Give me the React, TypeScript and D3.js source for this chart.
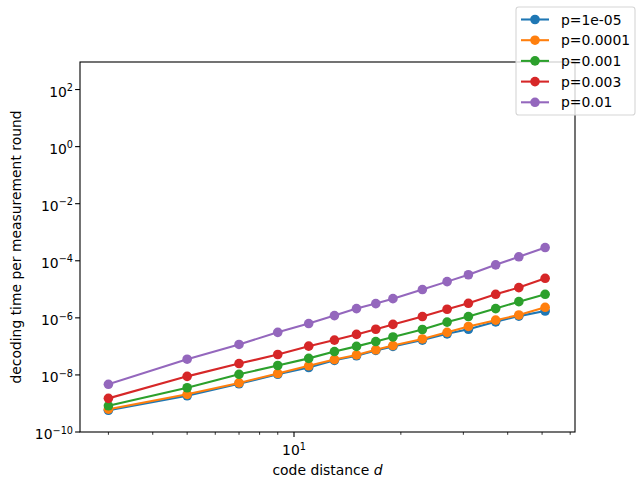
import React, { useEffect, useRef } from 'react';
import * as d3 from 'd3';

// code distances
const distances = [3, 5, 7, 9, 11, 13, 15, 17, 19, 23, 27, 31, 37, 43, 51];

const series = [
  { label: 'p=1e-05', color: '#1f77b4', values: [5.75e-10, 1.86e-9, 4.9e-9, 1.05e-8, 1.82e-8, 3.24e-8, 4.68e-8, 7.24e-8, 1.0e-7, 1.66e-7, 2.75e-7, 3.98e-7, 7.24e-7, 1.15e-6, 1.74e-6] },
  { label: 'p=0.0001', color: '#ff7f0e', values: [6.3e-10, 2.09e-9, 5.25e-9, 1.12e-8, 2.09e-8, 3.47e-8, 5.0e-8, 7.6e-8, 1.07e-7, 1.82e-7, 3.1e-7, 5.0e-7, 8.3e-7, 1.26e-6, 2.34e-6] },
  { label: 'p=0.001', color: '#2ca02c', values: [8.3e-10, 3.55e-9, 1.05e-8, 2.14e-8, 3.8e-8, 6.6e-8, 1.0e-7, 1.48e-7, 2.14e-7, 3.9e-7, 7.1e-7, 1.11e-6, 2.11e-6, 3.7e-6, 6.7e-6] },
  { label: 'p=0.003', color: '#d62728', values: [1.51e-9, 8.9e-9, 2.5e-8, 5.2e-8, 1.02e-7, 1.66e-7, 2.63e-7, 3.98e-7, 5.9e-7, 1.11e-6, 2.0e-6, 3.24e-6, 6.7e-6, 1.15e-5, 2.43e-5] },
  { label: 'p=0.01', color: '#9467bd', values: [4.7e-9, 3.55e-8, 1.17e-7, 3.1e-7, 6.3e-7, 1.2e-6, 2.11e-6, 3.16e-6, 4.7e-6, 9.8e-6, 1.86e-5, 3.24e-5, 7.2e-5, 1.38e-4, 2.9e-4] },
];

const yTickExps = [-10, -8, -6, -4, -2, 0, 2];
const xMajorTicks = [10];
const xMinorTicks = [3, 4, 5, 6, 7, 8, 9, 20, 30, 40, 50, 60];

const W = 641;
const H = 489;
const FONT = '"DejaVu Sans", sans-serif';
const FS = 13.9;
const R = 4.8;

const App = () => {
  const svgRef = useRef<SVGSVGElement>(null);

  useEffect(() => {
    document.body.style.margin = '0';
    if (!svgRef.current) return;
    const svg = d3.select(svgRef.current);
    svg.selectAll('*').remove();

    const left = 80, right = 575, top = 62, bottom = 432;

    const x = d3.scaleLog().domain([2.495, 61.9]).range([left, right]);
    const y = d3.scaleLog().domain([1e-10, Math.pow(10, 2.965)]).range([bottom, top]);

    svg.append('rect').attr('width', W).attr('height', H).attr('fill', 'white');

    // lines + markers
    const line = d3.line<number>()
      .x((_, i) => x(distances[i]))
      .y(d => y(d));

    series.forEach(s => {
      svg.append('path')
        .datum(s.values)
        .attr('d', line)
        .attr('fill', 'none')
        .attr('stroke', s.color)
        .attr('stroke-width', 2.08)
        .attr('stroke-linejoin', 'round')
        .attr('stroke-linecap', 'square');
      svg.append('g').selectAll('circle')
        .data(s.values)
        .enter()
        .append('circle')
        .attr('cx', (_, i) => x(distances[i]))
        .attr('cy', d => y(d))
        .attr('r', R)
        .attr('fill', s.color);
    });

    // spines
    svg.append('rect')
      .attr('x', left).attr('y', top)
      .attr('width', right - left).attr('height', bottom - top)
      .attr('fill', 'none').attr('stroke', 'black').attr('stroke-width', 1.1);

    // x ticks
    xMinorTicks.forEach(t => {
      svg.append('line')
        .attr('x1', x(t)).attr('x2', x(t))
        .attr('y1', bottom).attr('y2', bottom + 2.8)
        .attr('stroke', 'black').attr('stroke-width', 0.8);
    });
    xMajorTicks.forEach(t => {
      svg.append('line')
        .attr('x1', x(t)).attr('x2', x(t))
        .attr('y1', bottom).attr('y2', bottom + 4.9)
        .attr('stroke', 'black').attr('stroke-width', 1.1);
      const txt = svg.append('text')
        .attr('x', x(t)).attr('y', 455)
        .attr('text-anchor', 'middle')
        .attr('font-family', FONT).attr('font-size', FS);
      txt.append('tspan').text('10');
      txt.append('tspan').attr('dy', -5.5).attr('font-size', FS * 0.7).text(String(Math.log10(t)));
    });

    // y ticks
    yTickExps.forEach(e => {
      const ty = y(Math.pow(10, e));
      svg.append('line')
        .attr('x1', left - 4.9).attr('x2', left)
        .attr('y1', ty).attr('y2', ty)
        .attr('stroke', 'black').attr('stroke-width', 1.1);
      const txt = svg.append('text')
        .attr('x', 73).attr('y', ty + 7.2)
        .attr('text-anchor', 'end')
        .attr('font-family', FONT).attr('font-size', FS);
      txt.append('tspan').text('10');
      txt.append('tspan').attr('dy', -5.5).attr('font-size', FS * 0.7)
        .text(e < 0 ? '\u2212' + Math.abs(e) : String(e));
    });

    // axis labels
    const xl = svg.append('text')
      .attr('x', (left + right) / 2).attr('y', 475)
      .attr('text-anchor', 'middle')
      .attr('font-family', FONT).attr('font-size', FS);
    xl.append('tspan').text('code distance ');
    xl.append('tspan').attr('font-style', 'italic').text('d');

    svg.append('text')
      .attr('transform', `translate(21, ${(top + bottom) / 2}) rotate(-90)`)
      .attr('text-anchor', 'middle')
      .attr('font-family', FONT).attr('font-size', FS)
      .text('decoding time per measurement round');

    // legend
    const lg = svg.append('g');
    lg.append('rect')
      .attr('x', 516).attr('y', 7)
      .attr('width', 119).attr('height', 108)
      .attr('rx', 2.8)
      .attr('fill', 'white').attr('fill-opacity', 0.8)
      .attr('stroke', '#d6d6d6').attr('stroke-width', 1.1);
    series.forEach((s, i) => {
      const cy = 19.5 + i * 20.7;
      lg.append('line')
        .attr('x1', 521).attr('x2', 549)
        .attr('y1', cy).attr('y2', cy)
        .attr('stroke', s.color).attr('stroke-width', 2.08);
      lg.append('circle')
        .attr('cx', 535).attr('cy', cy).attr('r', R)
        .attr('fill', s.color);
      lg.append('text')
        .attr('x', 561).attr('y', cy + 5)
        .attr('font-family', FONT).attr('font-size', FS)
        .text(s.label);
    });
  }, []);

  return (
    <svg
      ref={svgRef}
      width={W}
      height={H}
      viewBox={`0 0 ${W} ${H}`}
      style={{ display: 'block' }}
    />
  );
};

export default App;
